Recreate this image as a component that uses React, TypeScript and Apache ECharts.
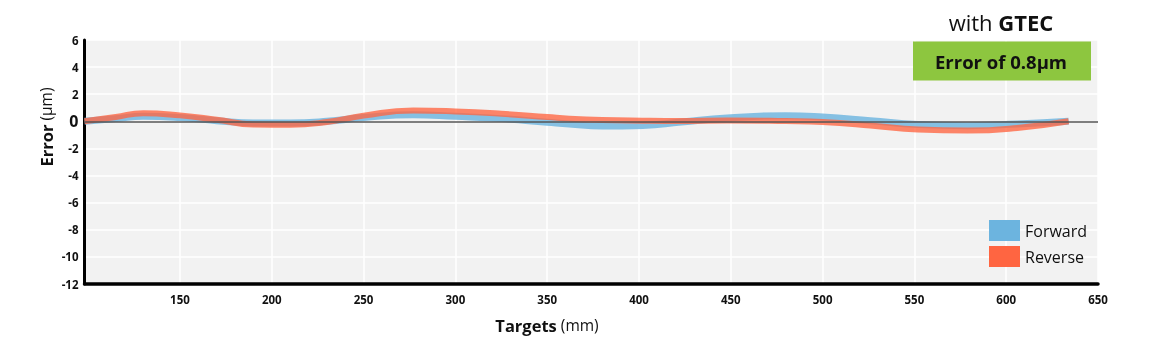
import React, { useEffect, useRef } from "react";
import * as echarts from "echarts";

const targets = [98, 115, 130, 150, 170, 190, 210, 230, 250, 277, 300, 325, 350, 362, 380, 402, 423, 448, 480, 500, 526, 552, 579, 606, 634];
const forward = [0, 0.2, 0.37, 0.28, 0.05, -0.12, -0.12, 0.0, 0.28, 0.49, 0.37, 0.2, -0.07, -0.2, -0.35, -0.3, -0.05, 0.24, 0.42, 0.32, 0.05, -0.24, -0.32, -0.2, 0];
const reverse = [0, 0.32, 0.6, 0.44, 0.12, -0.24, -0.26, -0.05, 0.42, 0.8, 0.73, 0.56, 0.32, 0.2, 0.1, 0.05, 0.03, 0.07, 0.02, -0.05, -0.3, -0.61, -0.68, -0.49, 0];
const xTicks = [150, 200, 250, 300, 350, 400, 450, 500, 550, 600, 650];
const seriesNames = ["Forward", "Reverse"];
const FONT = "'Open Sans', 'Noto Sans', sans-serif";

export default function App() {
  const ref = useRef<HTMLDivElement>(null);
  useEffect(() => {
    if (!ref.current) return;
    const chart = echarts.init(ref.current, undefined, { renderer: "svg" });
    const pair = (ys: number[]) => targets.map((x, i) => [x, ys[i]]);
    chart.setOption({
      animation: false,
      textStyle: { fontFamily: FONT },
      grid: {
        left: 84.5,
        right: 72,
        top: 40,
        bottom: 67,
        show: true,
        backgroundColor: "#f2f2f2",
        borderWidth: 0,
      },
      legend: {
        orient: "vertical",
        left: 989,
        top: 220,
        padding: 0,
        itemWidth: 31,
        itemHeight: 21,
        itemGap: 5,
        icon: "rect",
        textStyle: { fontSize: 16, color: "#111", fontFamily: FONT },
        data: [
          { name: seriesNames[0], itemStyle: { color: "#6cb4df", opacity: 1, borderWidth: 0 } },
          { name: seriesNames[1], itemStyle: { color: "#ff6541", opacity: 1, borderWidth: 0 } },
        ],
      },
      xAxis: {
        type: "value",
        min: 98,
        max: 650,
        axisLine: { show: true, onZero: false, lineStyle: { color: "#000", width: 3.5 } },
        axisTick: { show: false, customValues: xTicks },
        axisLabel: {
          customValues: xTicks,
          fontSize: 11.5,
          fontWeight: "bold",
          color: "#111",
          margin: 9,
          fontFamily: FONT,
        },
        splitLine: { show: true, lineStyle: { color: "#ffffff", width: 1.5 } },
      },
      yAxis: {
        type: "value",
        min: -12,
        max: 6,
        interval: 2,
        axisLine: { show: true, lineStyle: { color: "#000", width: 3 } },
        axisTick: { show: false },
        axisLabel: {
          fontSize: 11.5,
          fontWeight: "bold",
          color: "#111",
          margin: 6,
          fontFamily: FONT,
          formatter: (v: number) => (v === 0 ? "{z|0}" : String(v)),
          rich: { z: { fontSize: 16, fontWeight: "bold", color: "#111", fontFamily: FONT } },
        },
        splitLine: { show: true, lineStyle: { color: "#ffffff", width: 1.5 } },
      },
      series: [
        {
          name: seriesNames[0],
          type: "line",
          data: pair(forward),
          smooth: 0.5,
          showSymbol: false,
          symbol: "none",
          itemStyle: { color: "#6cb4df" },
          lineStyle: { color: "rgba(108,180,223,0.82)", width: 7 },
          markLine: {
            silent: true,
            symbol: ["none", "none"],
            label: { show: false },
            lineStyle: { color: "#555", width: 1.5, type: "solid" },
            data: [{ yAxis: 0 }],
          },
          z: 2,
        },
        {
          name: seriesNames[1],
          type: "line",
          data: pair(reverse),
          smooth: 0.5,
          showSymbol: false,
          symbol: "none",
          itemStyle: { color: "#ff6541" },
          lineStyle: { color: "rgba(255,101,65,0.78)", width: 6 },
          z: 3,
        },
      ],
      graphic: [
        {
          type: "text",
          x: 1001,
          y: 22,
          z: 10,
          style: {
            text: "with {b|GTEC}",
            fontSize: 22,
            fill: "#111",
            align: "center",
            verticalAlign: "middle",
            fontFamily: FONT,
            rich: { b: { fontSize: 22, fontWeight: "bold", fill: "#111", fontFamily: FONT } },
          },
        },
        {
          type: "rect",
          shape: { x: 913, y: 41.5, width: 178, height: 39 },
          style: { fill: "#8dc63f" },
          z: 10,
        },
        {
          type: "text",
          x: 1001,
          y: 61,
          z: 11,
          style: {
            text: "Error of 0.8µm",
            fontSize: 18.5,
            fontWeight: "bold",
            fill: "#111",
            align: "center",
            verticalAlign: "middle",
            fontFamily: FONT,
          },
        },
        {
          type: "text",
          x: 547,
          y: 325,
          z: 10,
          style: {
            text: "{b|Targets} (mm)",
            fontSize: 15.5,
            fill: "#111",
            align: "center",
            verticalAlign: "middle",
            fontFamily: FONT,
            rich: { b: { fontSize: 16.5, fontWeight: "bold", fill: "#111", fontFamily: FONT } },
          },
        },
        {
          type: "text",
          x: 46,
          y: 127,
          rotation: Math.PI / 2,
          z: 10,
          style: {
            text: "{b|Error} (µm)",
            fontSize: 15.5,
            fill: "#111",
            align: "center",
            verticalAlign: "middle",
            fontFamily: FONT,
            rich: { b: { fontSize: 16.5, fontWeight: "bold", fill: "#111", fontFamily: FONT } },
          },
        },
      ],
    });
    return () => chart.dispose();
  }, []);
  return (
    <div
      ref={ref}
      style={{ position: "fixed", left: 0, top: 0, width: 1170, height: 351 }}
    />
  );
}
